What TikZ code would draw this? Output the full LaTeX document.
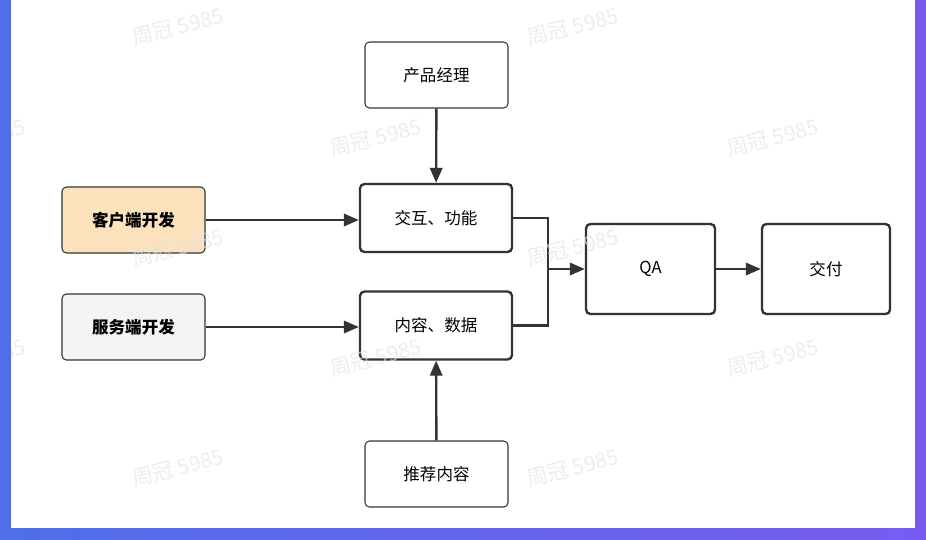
\documentclass[tikz,border=0pt]{standalone}
\usepackage{fontspec}
\setmainfont{Noto Sans CJK SC}
\usetikzlibrary{arrows.meta}
\definecolor{FlowInk}{HTML}{333333}
\definecolor{FlowClient}{HTML}{FBE2BC}
\definecolor{FlowServer}{HTML}{F4F4F4}
\definecolor{FrameBlue}{HTML}{4F6EE8}
\definecolor{FramePurple}{HTML}{785CF1}
\definecolor{MarkGray}{HTML}{E4E4E4}

\tikzset{
  thinbox/.style={draw=FlowInk, line width=0.6pt, rounded corners=2.5pt, fill=white,
    minimum width=2.86cm, minimum height=1.32cm, font=\fontsize{9.4}{11}\selectfont},
  boldbox/.style={draw=FlowInk, line width=1.35pt, rounded corners=2.5pt, fill=white,
    minimum width=3.04cm, minimum height=1.36cm, font=\fontsize{9.4}{11}\selectfont},
  flow/.style={draw=FlowInk, line width=1.35pt, -{Triangle[length=8.5pt, width=7pt]}},
  watermark/.style={text=MarkGray, text opacity=0.65, rotate=14, font=\fontsize{12}{14}\selectfont}
}

\begin{document}
\begin{tikzpicture}[x=0.02cm, y=-0.02cm]
  % Frame
  \shade[left color=FrameBlue, right color=FramePurple] (0,0) rectangle (926,539);
  \fill[white] (11,0) rectangle (915,528);

  % Nodes
  \node[thinbox] (pm) at (436.5,75) {产品经理};
  \node[boldbox] (ui) at (436,218) {交互、功能};
  \node[boldbox] (data) at (436,325.5) {内容、数据};
  \node[thinbox] (rec) at (436.5,474) {推荐内容};
  \node[thinbox, fill=FlowClient, font=\fontsize{9.4}{11}\selectfont\bfseries] (client) at (133.5,220) {客户端开发};
  \node[thinbox, fill=FlowServer, font=\fontsize{9.4}{11}\selectfont\bfseries] (server) at (133.5,327) {服务端开发};
  \node[boldbox, minimum width=2.58cm, minimum height=1.8cm] (qa) at (650.5,269) {QA};
  \node[boldbox, minimum width=2.56cm, minimum height=1.8cm] (deliver) at (826,269) {交付};
  \coordinate (merge) at (548,269);

  % Connectors
  \draw[flow] (pm) -- (ui);
  \draw[flow] (rec) -- (data);
  \draw[flow] (client.east) -- (client.east -| ui.west);
  \draw[flow] (server.east) -- (server.east -| data.west);
  \draw[draw=FlowInk, line width=1.35pt] (ui.east) -| (merge) |- (data.east);
  \draw[flow] (merge) -- (qa);
  \draw[flow] (qa) -- (deliver);

  % Watermarks
  \begin{scope}
    \clip (11,0) rectangle (915,528);
    \foreach \x/\y in {178/27, 573/27, -20/138, 376/138, 773/138,
                       178/248, 573/248, -20/358, 376/358, 773/358, 178/468, 573/468} {
      \node[watermark] at (\x,\y) {周冠 5985};
    }
  \end{scope}
\end{tikzpicture}
\end{document}
